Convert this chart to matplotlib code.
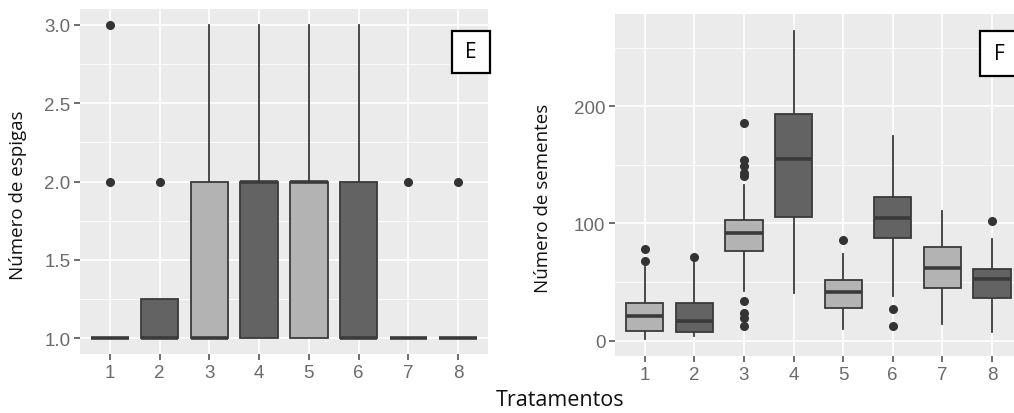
import matplotlib
matplotlib.use("Agg")
import matplotlib.pyplot as plt
from matplotlib.patches import Rectangle
import numpy as np

# Tratamentos 1..8
trat = [1, 2, 3, 4, 5, 6, 7, 8]
cores = ["#b3b3b3", "#636363", "#b3b3b3", "#636363",
         "#b3b3b3", "#636363", "#b3b3b3", "#636363"]

# Painel E - numero de espigas
e_q1 = [1, 1, 1, 1, 1, 1, 1, 1]
e_med = [1, 1, 1, 2, 2, 1, 1, 1]
e_q3 = [1, 1.25, 2, 2, 2, 2, 1, 1]
e_wlo = [1, 1, 1, 1, 1, 1, 1, 1]
e_whi = [1, 1.25, 3, 3, 3, 3, 1, 1]
e_out = [[2, 3], [2], [], [], [], [], [2], [2]]

# Painel F - numero de sementes
f_q1 = [8.5, 7, 76.4, 105.7, 27.9, 87.2, 45, 36.5]
f_med = [20.8, 16.5, 92, 154.7, 41.6, 104.3, 61.5, 52.7]
f_q3 = [31.6, 31.6, 102.6, 193.7, 51.3, 122.8, 80, 61.3]
f_wlo = [1, 3.7, 42, 40.2, 10, 37.9, 14.5, 7.4]
f_whi = [63, 68, 133, 264.4, 73.5, 174.6, 110.5, 86.3]
f_out = [[67.5, 78], [71],
         [185.5, 154, 149, 143, 140, 33.6, 23.6, 19.6, 12],
         [], [85.7], [27, 12.8], [], [102]]

W, H = 1014, 414
fig = plt.figure(figsize=(W / 100, H / 100), dpi=100)

tick_font = dict(family="Liberation Sans", size=13.5, color="#6b6b6b")
lab_font = dict(family="Open Sans", size=13.5, color="#111111")


def painel(rect, q1, med, q3, wlo, whi, out, ylim, major, minor, yticks):
    ax = fig.add_axes(rect)
    ax.set_facecolor("#ebebeb")
    stats = []
    for i in range(len(trat)):
        stats.append(dict(q1=q1[i], med=med[i], q3=q3[i], whislo=wlo[i],
                          whishi=whi[i], fliers=out[i]))
    bp = ax.bxp(stats, positions=trat, widths=0.75, patch_artist=True,
                showcaps=False, manage_ticks=False,
                boxprops=dict(edgecolor="#3a3a3a", linewidth=1.3),
                whiskerprops=dict(color="#3a3a3a", linewidth=1.3),
                medianprops=dict(color="#3a3a3a", linewidth=2.6),
                flierprops=dict(marker="o", markersize=5.5,
                                markerfacecolor="#333333",
                                markeredgecolor="#333333"))
    for patch, c in zip(bp["boxes"], cores):
        patch.set_facecolor(c)
    for w in bp["whiskers"]:
        w.set_zorder(1.5)
    ax.set_xlim(0.4, 8.6)
    ax.set_ylim(*ylim)
    ax.set_xticks(trat)
    ax.set_xticklabels([str(t) for t in trat], **tick_font)
    ax.set_yticks(major)
    ax.set_yticklabels(yticks, **tick_font)
    ax.set_yticks(minor, minor=True)
    ax.grid(True, which="major", color="white", linewidth=1.2)
    ax.grid(True, which="minor", axis="y", color="white", linewidth=0.6)
    ax.set_axisbelow(True)
    for s in ax.spines.values():
        s.set_visible(False)
    ax.tick_params(which="major", length=4, width=1.2, color="#555555", pad=3)
    ax.tick_params(which="minor", length=0)
    return ax


ax1 = painel([80 / W, 59 / H, 408 / W, 345 / H],
             e_q1, e_med, e_q3, e_wlo, e_whi, e_out,
             (0.9, 3.1), [1.0, 1.5, 2.0, 2.5, 3.0], [1.25, 1.75, 2.25, 2.75],
             ["1.0", "1.5", "2.0", "2.5", "3.0"])

ax2 = painel([615 / W, 57 / H, 406.7 / W, 342 / H],
             f_q1, f_med, f_q3, f_wlo, f_whi, f_out,
             (-13.2, 278.6), [0, 100, 200], [50, 150, 250],
             ["0", "100", "200"])

# titulos dos eixos
fig.text(18 / W, 1 - 195 / H, "Número de espigas", rotation=90,
         ha="center", va="center", **lab_font)
fig.text(543 / W, 1 - 198 / H, "Número de sementes", rotation=90,
         ha="center", va="center", **lab_font)
fig.text(560 / W, 1 - 401 / H, "Tratamentos", ha="center", va="center",
         family="Open Sans", size=15.5, color="#111111")

# caixas com as letras
for x0, y0, w, h, letra in [(452, 32, 38, 42, "E"), (980, 32, 38, 45, "F")]:
    fig.patches.append(Rectangle((x0 / W, 1 - (y0 + h) / H), w / W, h / H,
                                 transform=fig.transFigure, facecolor="white",
                                 edgecolor="black", linewidth=1.6, zorder=5))
    fig.text((x0 + 19) / W, 1 - (y0 + h / 2) / H, letra, ha="center",
             va="center", family="Open Sans", size=15, color="black", zorder=6)

fig.savefig("out.png", dpi=100)
